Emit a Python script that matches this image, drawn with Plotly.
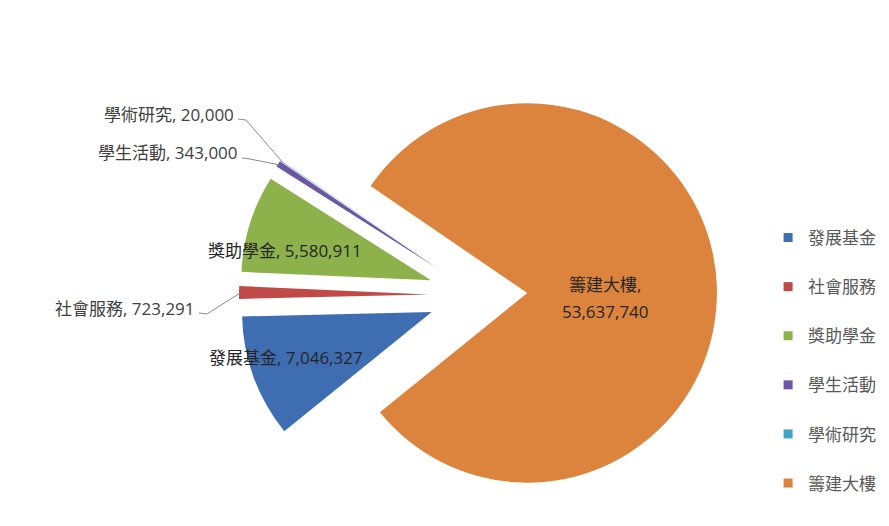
import math
import plotly.graph_objects as go

labels = ["發展基金", "社會服務", "獎助學金", "學生活動", "學術研究", "籌建大樓"]
values = [7046327, 723291, 5580911, 343000, 20000, 53637740]
colors = ["#3F6DB1", "#BF4A47", "#8DB14B", "#6B57A3", "#41A4C4", "#DC843D"]

W, H = 889, 526
PULL = 0.26
ROTATION = 231
PIE_H = 478
CX, CY = 470, 287
FONT = "Open Sans, Noto Sans CJK TC, sans-serif"
FS = 17

dom_w = PIE_H / W
domx = [CX / W - dom_w / 2, CX / W + dom_w / 2]
domy = [0, PIE_H / H]
R = PIE_H / (2 * (1 + PULL))

# slice mid-angles (math degrees) derived from the values
total = sum(values)
mids = []
start = 90 - ROTATION
for v in values:
    span = 360 * v / total
    mids.append(start - span / 2)
    start -= span


def outer_point(i, k=1.0):
    a = math.radians(mids[i])
    d = PULL * R + k * R
    return CX + d * math.cos(a), CY - d * math.sin(a)


def px(x, y):
    return x / W, 1 - y / H


fig = go.Figure()
fig.add_trace(go.Pie(
    labels=labels, values=values, sort=False, direction="clockwise",
    rotation=ROTATION, pull=PULL, textinfo="none", showlegend=False,
    marker=dict(colors=colors, line=dict(width=0)),
    domain=dict(x=domx, y=domy),
))

for lab, col in zip(labels, colors):
    fig.add_trace(go.Scatter(
        x=[None], y=[None], mode="markers", name=lab, legendgroup=lab,
        marker=dict(symbol="square", size=9, color=col),
    ))

# label placement (pixels): x, y, anchor
label_pos = [
    (278, 349, "center"),
    (189, 300, "right"),
    (277, 242, "center"),
    (232, 145, "right"),
    (228, 106, "right"),
    (597, 276, "center"),
]

annotations = []
shapes = []
for i, (lab, val) in enumerate(zip(labels, values)):
    x, y, anc = label_pos[i]
    inside = anc == "center"
    col = "#262626" if inside else "#404040"
    if i == len(labels) - 1:
        lines = [(f"{lab},", y), (f"{val:,}", y + 27)]
    else:
        lines = [(f"{lab}, {val:,}", y)]
    for txt, yy in lines:
        xp, yp = px(x, yy)
        annotations.append(dict(
            x=xp, y=yp, xref="paper", yref="paper", text=txt, showarrow=False,
            xanchor=anc, yanchor="middle", align="center",
            font=dict(family=FONT, size=FS, color=col),
        ))
    if not inside:
        ex, ey = outer_point(i, 0.99)
        sx, sy = x + 2, y + 5
        mx, my = sx + 8, sy + 1
        p = [px(sx, sy), px(mx, my), px(ex, ey)]
        path = "M {:.4f},{:.4f} L {:.4f},{:.4f} L {:.4f},{:.4f}".format(
            p[0][0], p[0][1], p[1][0], p[1][1], p[2][0], p[2][1])
        shapes.append(dict(type="path", xref="paper", yref="paper", path=path,
                           line=dict(color="#8C8C8C", width=1)))

fig.update_layout(
    width=W, height=H,
    margin=dict(l=0, r=0, t=0, b=0),
    paper_bgcolor="white", plot_bgcolor="white",
    xaxis=dict(visible=False), yaxis=dict(visible=False),
    font=dict(family=FONT),
    legend=dict(x=0.855, y=0.597, xanchor="left", yanchor="top",
                tracegroupgap=24, traceorder="grouped",
                font=dict(family=FONT, size=FS, color="#595959")),
    annotations=annotations, shapes=shapes,
)

fig.write_html("out.html")
